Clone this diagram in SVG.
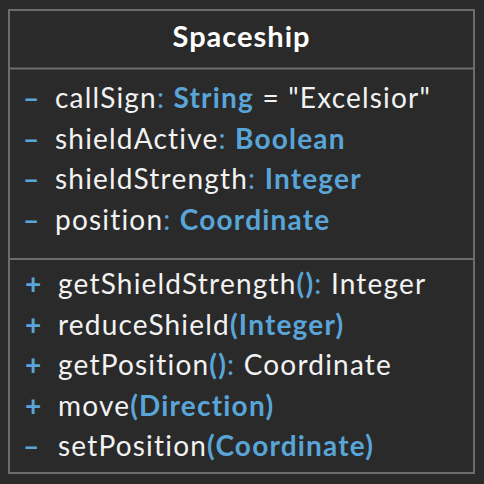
<svg xmlns="http://www.w3.org/2000/svg" width="484" height="484" viewBox="0 0 484 484">
<style>
text{font-family:Lato,"Noto Sans","Liberation Sans",sans-serif;font-size:28px;letter-spacing:1.2px;fill:#f2f2f2;font-variant-ligatures:none}
.t{font-weight:bold;font-size:29px;letter-spacing:1px;fill:#ffffff}
.b{fill:#59a5d8}
.bb{fill:#59a5d8;font-weight:bold}
.v{fill:#59a5d8;font-weight:bold}
.line{stroke:#6c6c6c;stroke-width:2;fill:none}
</style>
<rect x="0" y="0" width="484" height="484" fill="#2a2a2a"/>
<g id="Spaceship">
<rect class="line" x="9" y="10" width="465" height="463" fill="#2a2a2a"/>
<line class="line" x1="9" y1="68.500" x2="474" y2="68.500"/>
<line class="line" x1="9" y1="259" x2="474" y2="259"/>
<text class="t" x="241.500" y="47" text-anchor="middle">Spaceship</text>
<g id="attributes">
<text class="v" x="23" y="108">–</text>
<text x="55" y="108">callSign<tspan class="b">: </tspan><tspan class="bb">String</tspan> = "Excelsior"</text>
<text class="v" x="23" y="149">–</text>
<text x="55" y="149">shieldActive<tspan class="b">: </tspan><tspan class="bb">Boolean</tspan></text>
<text class="v" x="23" y="189">–</text>
<text x="55" y="189">shieldStrength<tspan class="b">: </tspan><tspan class="bb">Integer</tspan></text>
<text class="v" x="23" y="230">–</text>
<text x="55" y="230">position<tspan class="b">: </tspan><tspan class="bb">Coordinate</tspan></text>
</g>
<g id="operations">
<text class="v" x="25" y="294">+</text>
<text x="58" y="294">getShieldStrength<tspan class="bb">()</tspan><tspan class="b">: </tspan>Integer</text>
<text class="v" x="25" y="335">+</text>
<text x="58" y="335">reduceShield<tspan class="bb">(Integer)</tspan></text>
<text class="v" x="25" y="375">+</text>
<text x="58" y="375">getPosition<tspan class="bb">()</tspan><tspan class="b">: </tspan>Coordinate</text>
<text class="v" x="25" y="416">+</text>
<text x="58" y="416">move<tspan class="bb">(Direction)</tspan></text>
<text class="v" x="23" y="456">–</text>
<text x="58" y="456">setPosition<tspan class="bb">(Coordinate)</tspan></text>
</g>
</g>
<g id="connectors"/>
</svg>
